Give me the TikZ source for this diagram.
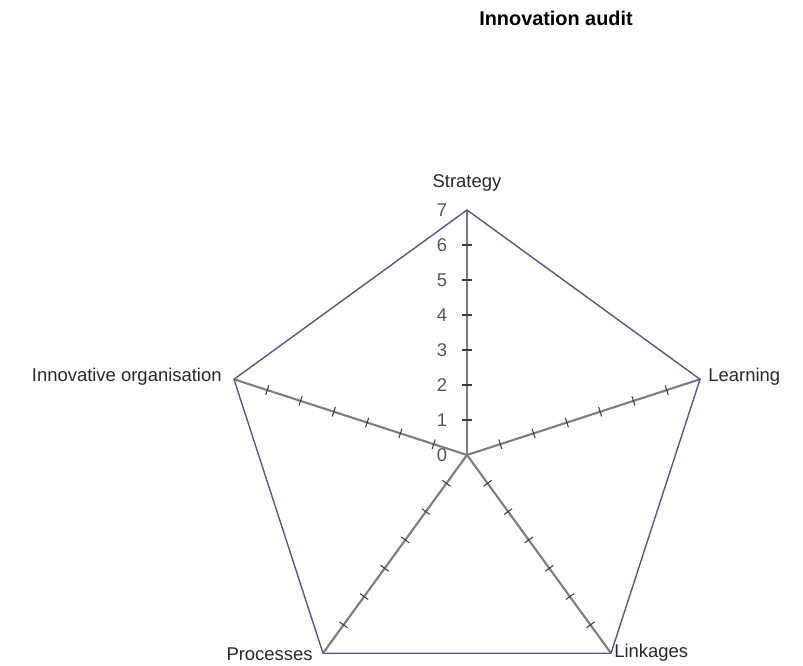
\documentclass[tikz,border=0pt]{standalone}
\usepackage{fontspec}
\setmainfont{Liberation Sans}
\usepackage{tikz}
\usetikzlibrary{positioning}
\definecolor{rim}{RGB}{88,86,150}
\definecolor{spoke}{RGB}{125,125,125}
\definecolor{tickc}{RGB}{60,60,60}
\definecolor{labelc}{RGB}{40,40,40}
\definecolor{numc}{RGB}{85,85,85}

\begin{document}
\begin{tikzpicture}
	    [axis/.style={draw=spoke, line width=1.2pt},
	    outline/.style={draw=rim, line width=0.8pt},
	    tickmark/.style={draw=tickc, line width=0.6pt},
	    label/.style={text=labelc, font=\fontsize{10.5}{12}\selectfont, inner sep=0pt},
	    num/.style={text=numc, font=\fontsize{10.5}{12}\selectfont, inner sep=0pt}]
	     \useasboundingbox (-9.34,-4.22) rectangle (6.72,9.1);
	     \node[font=\bfseries\fontsize{11.3}{13}\selectfont, inner sep=0pt] (title) at (1.78, 8.74) {Innovation audit};
	     \coordinate (O) at (0,0);
	     \coordinate (S) at (90:4.9);
	     \coordinate (L) at (18:4.9);
	     \coordinate (K) at (-54:4.9);
	     \coordinate (P) at (-126:4.9);
	     \coordinate (I) at (162:4.9);
	     % spokes
	     \foreach \v in {S,L,K,P,I} \draw[axis] (O) -- (\v);
	     % ticks
	     \foreach \a in {90,18,-54,-126,162}
	       \foreach \k in {1,...,6}
	         \draw[tickmark, rotate=\a] (\k*0.7,-0.1) -- (\k*0.7,0.1);
	     % rim
	     \draw[outline] (S) -- (L) -- (K) -- (P) -- (I) -- cycle;
	     % scale
	     \foreach \k in {0,...,7}
	       \node[num] (n\k) at (-0.5, \k*0.7) {\k};
	     % labels
	     \node[label] (strategy) at (0, 5.44) {Strategy};
	     \node[label, anchor=west] (learning) at (4.82, 1.56) {Learning};
	     \node[label, anchor=west] (linkages) at (2.94, -3.96) {Linkages};
	     \node[label, anchor=east] (processes) at (-3.08, -3.98) {Processes};
	     \node[label, anchor=east] (innov) at (-4.9, 1.56) {Innovative organisation};
\end{tikzpicture}
\end{document}
